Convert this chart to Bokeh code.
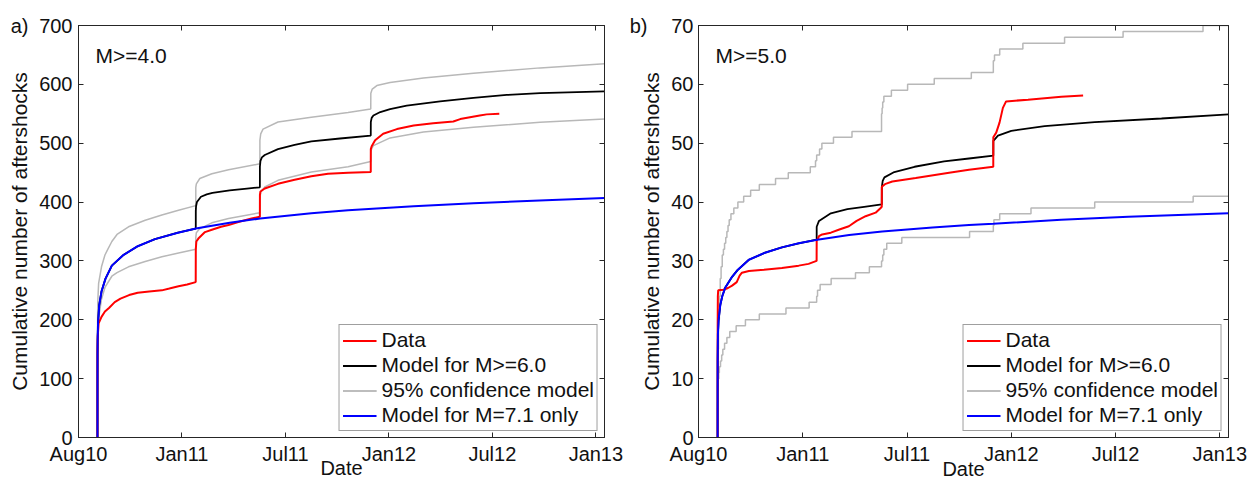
import numpy as np
from bokeh.plotting import figure
from bokeh.layouts import row
from bokeh.models import Range1d, FixedTicker, LinearAxis, Label, Legend, LegendItem
from bokeh.embed import file_html
from bokeh.resources import INLINE

FONT = "Liberation Sans"
INK = "#262626"
TXT = "#111111"

# x axis: days since the M7.1 Darfield mainshock (4 Sep 2010)
X_START, X_END = -33, 882
TICK_DAYS = [-33, 147, 327, 507, 687, 867]
TICK_LABELS = ["Aug10", "Jan11", "Jul11", "Jan12", "Jul12", "Jan13"]

# ---------------- panel a: M>=4.0 ----------------
A_RED_DAYS = [0, 0.01, 0.1, 0.5, 2, 7, 13, 20, 30, 40, 55, 70, 90, 112, 125, 141, 156, 170.9,
              171.05, 172, 175.5, 187, 199, 215, 228, 245, 268, 282.5, 282.6, 283.5, 291, 314,
              343, 372, 401, 436, 475.4, 475.5, 477, 483, 497, 521, 550, 584, 619, 631, 665,
              677, 699]
A_RED_N = [0, 110, 150, 172, 194, 205, 214, 220, 230, 236, 242, 246, 248, 250, 253, 257, 260, 264,
           320, 333, 338, 349, 353, 358, 361, 366, 372, 375, 412, 418, 423, 431,
           438, 444, 448, 450, 451, 490, 495, 505, 516, 524, 530, 534, 537, 541, 547,
           549, 550]

A_BLUE_DAYS = [0, 0.02, 0.1, 0.3, 1, 3, 7, 14, 25, 45, 70, 100, 140, 171, 230, 283, 372, 436,
               550, 654, 780, 882]
A_BLUE_N = [0, 90, 140, 165, 195, 225, 248, 270, 292, 310, 325, 337, 348, 355, 365, 372, 381, 386,
            393, 398, 403, 407]

A_BLACK_DAYS = [0, 0.02, 0.1, 0.3, 1, 3, 7, 14, 25, 45, 70, 100, 140, 171, 171.05, 171.5, 173,
                180, 190, 200, 230, 260, 282.5, 282.55, 283.5, 286, 291, 314, 343, 372, 422,
                475.4, 475.5, 477, 480, 492, 509, 538, 596, 654, 712, 770, 882]
A_BLACK_N = [0, 90, 140, 165, 195, 225, 248, 270, 292, 310, 325, 337, 348, 355, 385, 393, 400,
             409, 413, 415.5, 420, 423, 425, 460, 470, 476, 480, 490, 497, 503, 508,
             513, 536, 543, 547, 553, 558, 564, 571, 577, 582, 585, 588]

A_UPPER_DAYS = [0, 0.02, 0.1, 0.5, 2, 7, 13, 17, 25, 34, 54, 83, 112, 141, 171, 171.05, 172, 178,
                199, 228, 282.5, 282.55, 284, 288, 314, 372, 436, 475.4, 475.5, 478, 486, 509,
                567, 654, 770, 882]
A_UPPER_N = [0, 120, 180, 230, 262, 290, 310, 318, 333, 345, 358, 369, 378, 386, 394, 425, 431, 440,
             448, 455, 465, 505, 516, 524, 536, 544, 552, 558, 585, 592, 598, 603,
             611, 619, 628, 635]

A_LOWER_DAYS = [0, 0.02, 0.1, 0.5, 2, 7, 13, 25, 34, 54, 83, 112, 141, 171, 171.05, 172, 178, 199,
                228, 282.5, 282.55, 284, 291, 314, 372, 436, 475.4, 475.5, 477, 480, 509, 567,
                654, 770, 882]
A_LOWER_N = [0, 80, 125, 170, 203, 235, 255, 274, 280, 290, 299, 307, 313.5, 320, 340, 348, 355,
             364.7, 372, 382, 405, 417, 425.6, 437, 451, 460, 469, 485, 490.6, 496, 509, 519,
             527, 535.7, 541]

# ---------------- panel b: M>=5.0 ----------------
B_RED_DAYS = [0, 0.02, 0.1, 0.4, 1, 10, 18, 25, 33, 38, 42, 54, 80, 111, 140, 157, 170.9, 171.05,
              175, 180.5, 195.5, 209, 226.6, 240, 255.5, 272.8, 281.5, 283.4, 283.5, 290, 301.6,
              342, 399.7, 434, 475.9, 476, 481, 486.7, 492.5, 498, 535.8, 593.4, 631]
B_RED_N = [0, 12, 19, 24, 25, 25.1, 25.4, 25.8, 26.4, 27.5, 28, 28.3, 28.5, 28.8, 29.2, 29.5, 30,
           33.4, 34.2, 34.5, 34.8, 35.3, 35.9, 36.8, 37.6, 38.2, 39, 39.2, 42.6, 43.1, 43.5,
           44.1, 45, 45.5, 46, 51, 51.8, 53.5, 56, 57.1, 57.4, 57.9, 58.1]

B_BLUE_DAYS = [0, 0.02, 0.1, 0.5, 1.7, 4.6, 8, 13.3, 25, 34, 54, 82, 111, 140, 172, 227, 284,
               371, 434, 476, 593, 709, 882]
B_BLUE_N = [0, 8, 13, 17.5, 20, 22.5, 24, 25.5, 27.3, 28.4, 30.2, 31.4, 32.3, 33, 33.6, 34.4, 35,
            35.7, 36.1, 36.3, 37, 37.5, 38.1]

B_BLACK_DAYS = [0, 0.02, 0.1, 0.5, 1.7, 4.6, 8, 13.3, 25, 34, 54, 82, 111, 140, 171, 171.05, 175,
                195.5, 224, 253, 283.4, 283.5, 285, 288, 305, 340, 391, 434, 476, 476.05, 484,
                507, 564.6, 651, 766.4, 882]
B_BLACK_N = [0, 8, 13, 17.5, 20, 22.5, 24, 25.5, 27.3, 28.4, 30.2, 31.4, 32.3, 33, 33.6, 35.8,
             36.8, 38.1, 38.8, 39.2, 39.6, 42.5, 43.6, 44.2, 45.1, 46, 46.9, 47.4, 47.9, 50.4,
             51.3, 52.1, 52.9, 53.6, 54.2, 54.9]

B_UPPER_DAYS = [0, 0.05, 0.2, 0.6, 1.5, 3, 4.5, 6, 8, 10, 12, 14, 16, 18, 20, 23, 28, 35, 45, 57,
                72, 100, 122, 160, 169, 171, 176, 180, 200, 232, 283, 284, 285, 287, 300, 328,
                374, 438, 476, 478, 487, 527, 599, 700, 838, 882]
B_UPPER_N = [0, 5, 10, 15, 20, 24, 27, 29, 31, 32, 33, 34, 35, 36, 37, 38, 39, 40, 41, 42,
             43, 44, 45, 46, 47, 48, 49, 50, 51, 52, 55, 56, 57, 58, 59, 60,
             61, 62, 64, 65, 66, 67, 68, 69, 70, 70]

B_LOWER_DAYS = [0, 0.02, 0.1, 0.4, 1, 2, 3, 5, 7, 9, 12, 16, 21, 32, 48, 72, 118, 158, 171, 172.5,
                177, 196, 238, 262, 283, 285, 287, 292, 318, 435, 476, 477, 487, 541, 651, 821,
                882]
B_LOWER_N = [0, 3, 6, 9, 10, 11, 12, 13, 14, 15, 16, 17, 18, 19, 20, 21, 22, 23, 24, 25,
             26, 27, 28, 29, 30, 31, 32, 33, 34, 35, 36, 37, 38, 39, 40, 41, 41]

LEGEND_LABELS = ["Data", "Model for M>=6.0", "95% confidence model", "Model for M=7.1 only"]
RED, BLACK, GREY, BLUE = "#ff0000", "#000000", "#b8b8b8", "#0000ff"


def style_axis(ax, labelled):
    ax.axis_line_color = INK
    ax.axis_line_width = 1
    ax.major_tick_line_color = INK
    ax.major_tick_in = 5
    ax.major_tick_out = 0
    ax.minor_tick_line_color = None
    ax.major_label_text_font = FONT
    if labelled:
        ax.major_label_text_color = TXT
        ax.major_label_text_font_size = "20px"
        ax.major_label_standoff = 5
    else:
        # tick marks only on the top / right edges of the box
        ax.major_label_text_color = None
        ax.major_label_text_font_size = "0px"
        ax.major_label_standoff = 0


def panel(tag, mag, ymax, ystep, red, black, upper, lower, blue, stepped,
          width, left, right, top, bottom, ytick_gap, tag_gap, ylabel_gap, date_gap):
    p = figure(width=width, height=482, x_range=Range1d(X_START, X_END),
               y_range=Range1d(0, ymax), output_backend="svg", toolbar_location=None,
               title=None, min_border_left=left, min_border_right=right,
               min_border_top=top, min_border_bottom=bottom)
    p.grid.visible = False
    p.outline_line_color = INK
    p.background_fill_color = "white"
    p.border_fill_color = "white"

    xticker = FixedTicker(ticks=TICK_DAYS)
    yticker = FixedTicker(ticks=list(range(0, ymax + 1, ystep)))

    xa = p.xaxis[0]
    xa.ticker = xticker
    xa.major_label_overrides = {d: s for d, s in zip(TICK_DAYS, TICK_LABELS)}
    style_axis(xa, True)
    xa.axis_label = "Date"
    xa.axis_label_text_font = FONT
    xa.axis_label_text_font_size = "20px"
    xa.axis_label_text_font_style = "normal"
    xa.axis_label_text_color = TXT
    xa.axis_label_standoff = date_gap

    ya = p.yaxis[0]
    ya.ticker = yticker
    style_axis(ya, True)
    ya.major_label_standoff = ytick_gap

    # outer left axis: carries the panel tag level with the top tick and the y title
    tag_ax = LinearAxis(ticker=FixedTicker(ticks=[ymax]), major_label_overrides={ymax: tag},
                        axis_line_color=None, major_tick_line_color=None,
                        minor_tick_line_color=None, major_tick_in=0, major_tick_out=0,
                        major_label_standoff=tag_gap, major_label_text_font=FONT,
                        major_label_text_font_size="20px", major_label_text_color=TXT,
                        axis_label="Cumulative number of aftershocks",
                        axis_label_text_font=FONT, axis_label_text_font_size="21px",
                        axis_label_text_font_style="normal", axis_label_text_color=TXT,
                        axis_label_standoff=ylabel_gap)
    p.add_layout(tag_ax, "left")

    top_ax = LinearAxis(ticker=xticker)
    style_axis(top_ax, False)
    p.add_layout(top_ax, "above")
    right_ax = LinearAxis(ticker=yticker)
    style_axis(right_ax, False)
    p.add_layout(right_ax, "right")

    if stepped:
        g1 = p.step(upper[0], upper[1], mode="after", line_color=GREY, line_width=1.5)
        g2 = p.step(lower[0], lower[1], mode="after", line_color=GREY, line_width=1.5)
    else:
        g1 = p.line(upper[0], upper[1], line_color=GREY, line_width=1.5)
        g2 = p.line(lower[0], lower[1], line_color=GREY, line_width=1.5)
    rk = p.line(black[0], black[1], line_color=BLACK, line_width=1.8)
    rr = p.line(red[0], red[1], line_color=RED, line_width=2)
    rb = p.line(blue[0], blue[1], line_color=BLUE, line_width=2)

    legend = Legend(items=[LegendItem(label=LEGEND_LABELS[0], renderers=[rr]),
                           LegendItem(label=LEGEND_LABELS[1], renderers=[rk]),
                           LegendItem(label=LEGEND_LABELS[2], renderers=[g1, g2]),
                           LegendItem(label=LEGEND_LABELS[3], renderers=[rb])],
                    location="bottom_right", margin=6, padding=3, spacing=1,
                    glyph_width=34, glyph_height=23, label_height=23, label_standoff=5,
                    label_text_font=FONT, label_text_font_size="21px", label_text_color=TXT,
                    border_line_color="#404040", border_line_width=1,
                    background_fill_color="white", background_fill_alpha=1)
    p.add_layout(legend)

    p.add_layout(Label(x=X_START, y=ymax, x_offset=17, y_offset=-30, text=mag,
                       text_font=FONT, text_font_size="21px", text_color=TXT,
                       text_baseline="middle"))
    return p


pa = panel("a)", "M>=4.0", 700, 100,
           (A_RED_DAYS, A_RED_N), (A_BLACK_DAYS, A_BLACK_N), (A_UPPER_DAYS, A_UPPER_N),
           (A_LOWER_DAYS, A_LOWER_N), (A_BLUE_DAYS, A_BLUE_N), False,
           width=628, left=78, right=24, top=25, bottom=44,
           ytick_gap=6, tag_gap=8, ylabel_gap=-23, date_gap=-11)
pb = panel("b)", "M>=5.0", 70, 10,
           (B_RED_DAYS, B_RED_N), (B_BLACK_DAYS, B_BLACK_N), (B_UPPER_DAYS, B_UPPER_N),
           (B_LOWER_DAYS, B_LOWER_N), (B_BLUE_DAYS, B_BLUE_N), True,
           width=623, left=70, right=23, top=20, bottom=45,
           ytick_gap=5, tag_gap=21, ylabel_gap=-36, date_gap=-10)

layout = row(pa, pb)
open("out.html", "w").write(file_html(layout, INLINE))
